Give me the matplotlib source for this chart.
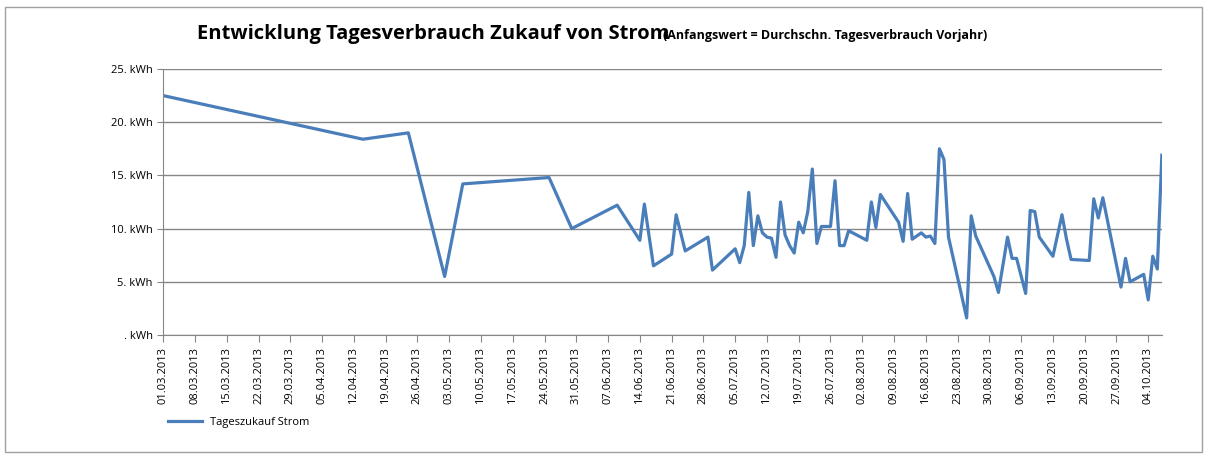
import datetime as dt
import matplotlib.pyplot as plt
import matplotlib.dates as mdates
from matplotlib.patches import Rectangle

# Tagesverbrauch, Tage ab 01.03.2013
start = dt.date(2013, 3, 1)
days = [0, 44, 54, 62, 66, 85, 90, 100, 105, 106, 108, 112, 113, 115, 120, 121,
        126, 127, 128, 129, 130, 131, 132, 133, 134, 135, 136, 137, 138, 139, 140,
        141, 142, 143, 144, 145, 146, 147, 148, 149, 150, 151, 155, 156, 157, 158,
        162, 163, 164, 165, 167, 168, 169, 170, 171, 172, 173, 177, 178, 179, 183,
        184, 186, 187, 188, 190, 191, 192, 193, 196, 198, 199, 200, 204, 205, 206,
        207, 211, 212, 213, 216, 217, 218, 219, 220]
kwh = [22.5, 18.4, 19.0, 5.5, 14.2, 14.8, 10.0, 12.2, 8.9, 12.3, 6.5, 7.6, 11.3, 7.9,
       9.2, 6.1, 8.1, 6.8, 8.4, 13.4, 8.4, 11.2, 9.6, 9.2, 9.1, 7.3, 12.5, 9.4, 8.4,
       7.7, 10.6, 9.6, 11.6, 15.6, 8.6, 10.2, 10.2, 10.2, 14.5, 8.4, 8.4, 9.8, 8.9,
       12.5, 10.1, 13.2, 10.6, 8.8, 13.3, 9.0, 9.6, 9.2, 9.3, 8.6, 17.5, 16.5, 9.2,
       1.6, 11.2, 9.3, 5.5, 4.0, 9.2, 7.2, 7.2, 3.9, 11.7, 11.6, 9.2, 7.4, 11.3, 9.0,
       7.1, 7.0, 12.8, 11.0, 12.9, 4.5, 7.2, 5.0, 5.7, 3.3, 7.4, 6.2, 16.9]
dates = [start + dt.timedelta(days=d) for d in days]
yticks = [0, 5, 10, 15, 20, 25]
ytick_labels = [". kWh", "5. kWh", "10. kWh", "15. kWh", "20. kWh", "25. kWh"]

plt.rcParams["font.family"] = "Open Sans"
fig = plt.figure(figsize=(12.09, 4.57), dpi=100)
fig.patches.append(Rectangle((0.004, 0.01), 0.99, 0.975, transform=fig.transFigure,
                             fill=False, edgecolor="#a0a0a0", linewidth=1))
ax = fig.add_axes([0.135, 0.267, 0.826, 0.582])
ax.plot(dates, kwh, color="#4a7ebb", linewidth=2.3, label="Tageszukauf Strom")

ax.set_ylim(0, 25)
ax.set_yticks(yticks)
ax.set_yticklabels(ytick_labels, fontsize=8)
ax.set_xlim(start - dt.timedelta(days=0.7), start + dt.timedelta(days=220.4))
ax.xaxis.set_major_locator(mdates.DayLocator(bymonthday=None, interval=7))
ax.set_xticks([start + dt.timedelta(days=7 * i) for i in range(32)])
ax.xaxis.set_major_formatter(mdates.DateFormatter("%d.%m.%Y"))
plt.setp(ax.get_xticklabels(), rotation=90, fontsize=8)
ax.grid(axis="y", color="#868686", linewidth=1)
ax.set_axisbelow(True)
for s in ["top", "right"]:
    ax.spines[s].set_visible(False)
ax.spines["left"].set_color("#868686")
ax.spines["bottom"].set_color("#868686")
ax.tick_params(axis="y", length=4, color="#868686")
ax.tick_params(axis="x", length=5, color="#868686")

fig.text(0.163, 0.915, "Entwicklung Tagesverbrauch Zukauf von Strom", fontsize=14.5,
         fontweight="bold")
fig.text(0.548, 0.915, "(Anfangswert = Durchschn. Tagesverbrauch Vorjahr)", fontsize=9,
         fontweight="bold")
ax.legend(loc="upper left", bbox_to_anchor=(-0.005, -0.27), frameon=False, fontsize=8,
          handlelength=3)

fig.savefig("out.png", dpi=100)
